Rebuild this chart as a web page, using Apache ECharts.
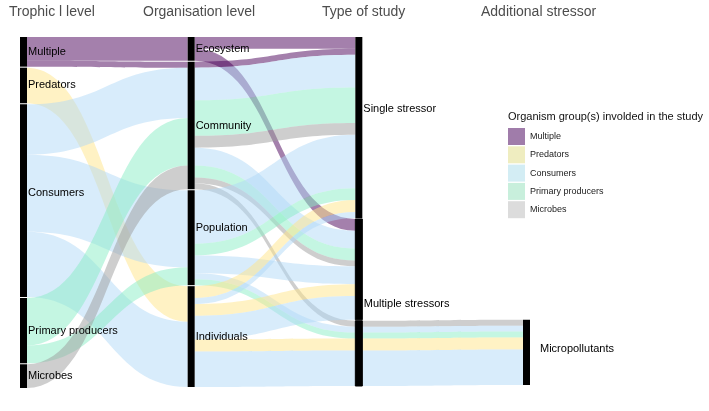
<!DOCTYPE html>
<html>
<head>
<meta charset="utf-8">
<script src="https://cdn.jsdelivr.net/npm/echarts@6/dist/echarts.min.js"></script>
<style>
html, body { margin: 0; padding: 0; background: #fff; }
#main { width: 709px; height: 411px; }
</style>
</head>
<body>
<div id="main"></div>
<script>
// strata on each axis
var trophicLevels = ['Multiple', 'Predators', 'Consumers', 'Primary producers', 'Microbes'];
var organisationLevels = ['Ecosystem', 'Community', 'Population', 'Individuals'];
var studyTypes = ['Single stressor', 'Multiple stressors'];
var additionalStressors = ['Micropollutants'];
var axisTitles = ['Trophic l level', 'Organisation level', 'Type of study', 'Additional stressor'];

// number of studies, trophic level -> organisation level
var trophicToOrg = [
    ['Multiple', 'Ecosystem', 8],
    ['Multiple', 'Community', 2],
    ['Predators', 'Individuals', 12],
    ['Consumers', 'Community', 17],
    ['Consumers', 'Population', 26],
    ['Consumers', 'Individuals', 22],
    ['Primary producers', 'Community', 16],
    ['Primary producers', 'Population', 6],
    ['Microbes', 'Community', 8]
];

// organisation level -> type of study, per organism group
// [organisation, type, group, with micropollutants, studies]
var orgToType = [
    ['Ecosystem', 'Single stressor', 'Multiple', false, 4],
    ['Ecosystem', 'Multiple stressors', 'Multiple', false, 4],
    ['Community', 'Single stressor', 'Multiple', false, 2],
    ['Community', 'Single stressor', 'Consumers', false, 11],
    ['Community', 'Single stressor', 'Primary producers', false, 12],
    ['Community', 'Single stressor', 'Microbes', false, 4],
    ['Community', 'Multiple stressors', 'Consumers', false, 6],
    ['Community', 'Multiple stressors', 'Primary producers', false, 4],
    ['Community', 'Multiple stressors', 'Microbes', false, 2],
    ['Community', 'Multiple stressors', 'Microbes', true, 2],
    ['Population', 'Single stressor', 'Consumers', false, 18],
    ['Population', 'Single stressor', 'Primary producers', false, 4],
    ['Population', 'Multiple stressors', 'Consumers', false, 6],
    ['Population', 'Multiple stressors', 'Consumers', true, 2],
    ['Population', 'Multiple stressors', 'Primary producers', true, 2],
    ['Individuals', 'Single stressor', 'Predators', false, 4],
    ['Individuals', 'Single stressor', 'Consumers', false, 2],
    ['Individuals', 'Multiple stressors', 'Predators', false, 4],
    ['Individuals', 'Multiple stressors', 'Consumers', false, 8],
    ['Individuals', 'Multiple stressors', 'Predators', true, 4],
    ['Individuals', 'Multiple stressors', 'Consumers', true, 12]
];

var flowColors = {
    'Multiple': '#4a025a',
    'Predators': '#ffe68a',
    'Consumers': '#b2d9f8',
    'Primary producers': '#8aedc6',
    'Microbes': '#9e9e9e'
};
var legendColors = {
    'Multiple': '#a07caa',
    'Predators': '#efedc0',
    'Consumers': '#d3edf4',
    'Primary producers': '#c8efdc',
    'Microbes': '#dcdcdc'
};
// label nudges to sit like the original
var labelNudge = { 'Consumers': -8, 'Population': -10, 'Single stressor': -18, 'Multiple stressors': 35, 'Micropollutants': -3 };

var MS_MICRO = 'Multiple stressors (micropollutants)';
var NONE = 'none';
// the multiple stressors bar is drawn in two parts, joined
var joinedBar = { borderColor: '#000', borderWidth: 1 };

var nodes = [];
function addNode(name, opts) {
    var n = { name: name };
    if (labelNudge[name]) n.label = { offset: [0, labelNudge[name]] };
    nodes.push(Object.assign(n, opts || {}));
}
trophicLevels.forEach(function (d) { addNode(d); });
organisationLevels.forEach(function (d) { addNode(d); });
studyTypes.forEach(function (d) {
    addNode(d, d === 'Multiple stressors' ? { itemStyle: joinedBar } : null);
});
addNode(MS_MICRO, { itemStyle: joinedBar, label: { show: false } });
addNode(NONE, { itemStyle: { opacity: 0 }, label: { show: false } });
additionalStressors.forEach(function (d) { addNode(d, { label: { distance: 10, offset: [0, labelNudge[d]] } }); });

var links = [];
trophicToOrg.forEach(function (r) {
    links.push({ source: r[0], target: r[1], value: r[2], lineStyle: { color: flowColors[r[0]] } });
});
var noneFrom = {};
orgToType.forEach(function (r) {
    var target = r[1] === 'Multiple stressors' && r[3] ? MS_MICRO : r[1];
    links.push({ source: r[0], target: target, value: r[4], lineStyle: { color: flowColors[r[2]] } });
    if (!r[3]) noneFrom[r[1]] = (noneFrom[r[1]] || 0) + r[4];
});
studyTypes.forEach(function (t) {
    links.push({ source: t, target: NONE, value: noneFrom[t], lineStyle: { opacity: 0 } });
});
orgToType.forEach(function (r) {
    if (r[3]) links.push({ source: MS_MICRO, target: 'Micropollutants', value: r[4], lineStyle: { color: flowColors[r[2]] } });
});

var headerLeft = [9, 143, 322, 481];
var titles = axisTitles.map(function (t, i) {
    return { text: t, left: headerLeft[i], top: 5, padding: 0,
        textStyle: { fontSize: 14, fontWeight: 'normal', color: '#4d4d4d' } };
});
titles.push({ text: 'Organism group(s) involded in the study', left: 508, top: 111, padding: 0,
    textStyle: { fontSize: 11, fontWeight: 'normal', color: '#111' } });

var legendSeries = trophicLevels.map(function (g) {
    return { type: 'pie', name: g, data: [], showEmptyCircle: false, itemStyle: { color: legendColors[g] } };
});

var myChart = echarts.init(document.getElementById('main'));
myChart.setOption({
    animation: false,
    textStyle: { fontFamily: 'Liberation Sans' },
    title: titles,
    legend: {
        orient: 'vertical', left: 508, top: 128, padding: 0,
        itemWidth: 17, itemHeight: 17, itemGap: 1.3, icon: 'rect',
        selectedMode: false,
        textStyle: { fontSize: 9, color: '#222' },
        data: trophicLevels
    },
    series: [{
        type: 'sankey',
        name: 'studies',
        left: 20, top: 37, width: 510, height: 351,
        nodeWidth: 7, nodeGap: 1,
        layoutIterations: 0,
        nodeAlign: 'justify',
        draggable: false,
        emphasis: { disabled: true },
        itemStyle: { color: '#000', borderWidth: 0 },
        lineStyle: { curveness: 0.5, opacity: 0.5 },
        label: { position: 'right', distance: 1, fontSize: 11, color: '#000' },
        data: nodes,
        links: links
    }].concat(legendSeries)
});
</script>
</body>
</html>
